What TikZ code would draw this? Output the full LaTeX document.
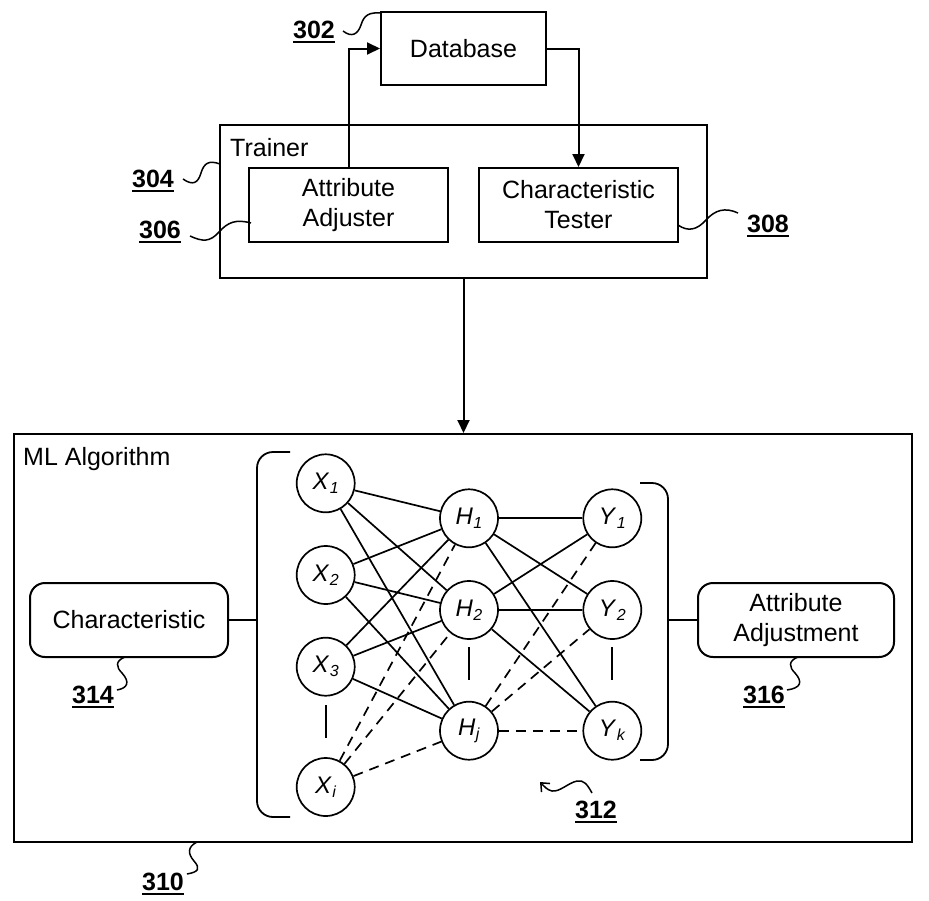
\documentclass[tikz,border=0pt]{standalone}
\usepackage{fontspec}
\setmainfont{Liberation Sans}
\usetikzlibrary{arrows.meta}
\newcommand\reflab[1]{\setbox0=\hbox{\bfseries #1}\vtop{\copy0\kern2.5pt\hrule height 1.8pt}}
\newcommand\nsub[2]{\textit{#1}\kern0.5pt\raisebox{-4pt}{\fontsize{16}{16}\selectfont\textit{#2}}}
\tikzset{
  blk/.style={draw, line width=2pt, align=center, inner sep=0pt,
    font=\fontsize{25}{30}\selectfont},
  rblk/.style={blk, rounded corners=15pt},
  neuron/.style={draw, circle, line width=1.7pt, minimum size=58pt, inner sep=0pt,
    font=\fontsize{24}{24}\selectfont},
  wire/.style={line width=1.7pt},
  dwire/.style={line width=1.7pt, dash pattern=on 10pt off 7pt},
  lbl/.style={anchor=base, inner sep=0pt, font=\fontsize{25}{30}\selectfont},
  sq/.style={line width=1.5pt},
  flow/.style={line width=2pt, -{Triangle[length=13pt,width=12pt]}},
}
\begin{document}
\begin{tikzpicture}[x=1pt,y=-1pt]
\useasboundingbox (0,0) rectangle (929,900);
% top part
\node[blk, minimum width=165pt, minimum height=73pt] (db) at (463.5,48.5) {Database};
\node[blk, minimum width=487pt, minimum height=153pt] (tr) at (463.5,201.5) {};
\node[anchor=west, inner sep=0pt, font=\fontsize{25}{30}\selectfont] (trl) at (230,148) {Trainer};
\node[blk, minimum width=199pt, minimum height=74pt] (aa) at (348.5,205) {Attribute\\Adjuster};
\node[blk, minimum width=199pt, minimum height=74pt] (ct) at (578.5,205) {Characteristic\\Tester};
\draw[flow] (aa.north) |- (db.west);
\draw[flow] (db.east) -| (ct.north);
% ML box
\node[blk, minimum width=898pt, minimum height=408pt] (ml) at (463,638) {};
\draw[flow] (tr.south) -- (tr.south |- ml.north);
\node[anchor=west, inner sep=0pt, font=\fontsize{25}{30}\selectfont] (mll) at (23,459) {ML Algorithm};
\node[rblk, minimum width=198pt, minimum height=74pt] (ch) at (129,620) {Characteristic};
\node[rblk, minimum width=196pt, minimum height=74pt] (ad) at (796,620) {Attribute\\Adjustment};
% brackets
\draw[line width=1.8pt, rounded corners=16pt] (290,452) -- (257,452) -- (257,817) -- (290,817);
\draw[line width=1.8pt, rounded corners=16pt] (640,483) -- (668,483) -- (668,760) -- (640,760);
\coordinate (lb) at (257,620);
\coordinate (rb) at (668,620);
\draw[wire, line width=2pt] (ch.east) -- (lb);
\draw[wire, line width=2pt] (rb) -- (ad.west);
% neurons
\node[neuron] (x1) at (325.7,483.3) {\nsub{X}{1}};
\node[neuron] (x2) at (325.7,575) {\nsub{X}{2}};
\node[neuron] (x3) at (325.7,666.7) {\nsub{X}{3}};
\node[neuron] (xi) at (325.7,787) {\nsub{X}{i}};
\node[neuron] (h1) at (469,518.3) {\nsub{H}{1}};
\node[neuron] (h2) at (469,610) {\nsub{H}{2}};
\node[neuron] (hj) at (469,730.7) {\nsub{H}{j}};
\node[neuron] (y1) at (612.3,518.3) {\nsub{Y}{1}};
\node[neuron] (y2) at (612.3,610) {\nsub{Y}{2}};
\node[neuron] (yk) at (612.3,730.7) {\nsub{Y}{k}};
\foreach \a in {x1,x2,x3} \foreach \b in {h1,h2,hj} \draw[wire] (\a) -- (\b);
\foreach \b in {h1,h2,hj} \draw[dwire] (xi) -- (\b);
\foreach \a in {h1,h2} \foreach \b in {y1,y2,yk} \draw[wire] (\a) -- (\b);
\foreach \b in {y1,y2,yk} \draw[dwire] (hj) -- (\b);
\draw[wire] (325.7,705) -- (325.7,738);
\draw[wire] (469,647) -- (469,680);
\draw[wire] (612.3,647) -- (612.3,680);
% reference labels
\node[lbl] (l302) at (314,38) {\reflab{302}};
\draw[sq] (343,31) .. controls (352,38) and (358,34) .. (361,25) .. controls (364,15) and (369,12) .. (382,13);
\node[lbl] (l304) at (153,187) {\reflab{304}};
\draw[sq] (183,179) .. controls (193,186) and (198,183) .. (201,173) .. controls (204,163) and (209,160) .. (220,164);
\node[lbl] (l306) at (160,238) {\reflab{306}};
\draw[sq] (190,236) .. controls (203,242) and (210,242) .. (219,232) .. controls (228,222) and (236,219) .. (251,223);
\node[lbl] (l308) at (768,232) {\reflab{308}};
\draw[sq] (678,225) .. controls (688,232) and (697,230) .. (706,220) .. controls (715,210) and (725,207) .. (738,213);
\node[lbl] (l314) at (93,703) {\reflab{314}};
\draw[sq] (125,657) .. controls (115,661) and (116,667) .. (122,673) .. controls (130,682) and (128,688) .. (117,690);
\node[lbl] (l316) at (764,703) {\reflab{316}};
\draw[sq] (798,657) .. controls (788,661) and (789,667) .. (795,673) .. controls (803,682) and (801,688) .. (787,690);
\node[lbl] (l310) at (163,890) {\reflab{310}};
\draw[sq] (197,842) .. controls (187,847) and (188,854) .. (194,861) .. controls (201,869) and (198,872) .. (187,874);
\node[lbl] (l312) at (596,818) {\reflab{312}};
\draw[sq, -{Straight Barb[length=7pt,width=12pt]}] (592,793) .. controls (587,784) and (584,780) .. (577,781) .. controls (568,783) and (560,792) .. (552,791) .. controls (547,790) and (544,786) .. (540,782);
\end{tikzpicture}
\end{document}
